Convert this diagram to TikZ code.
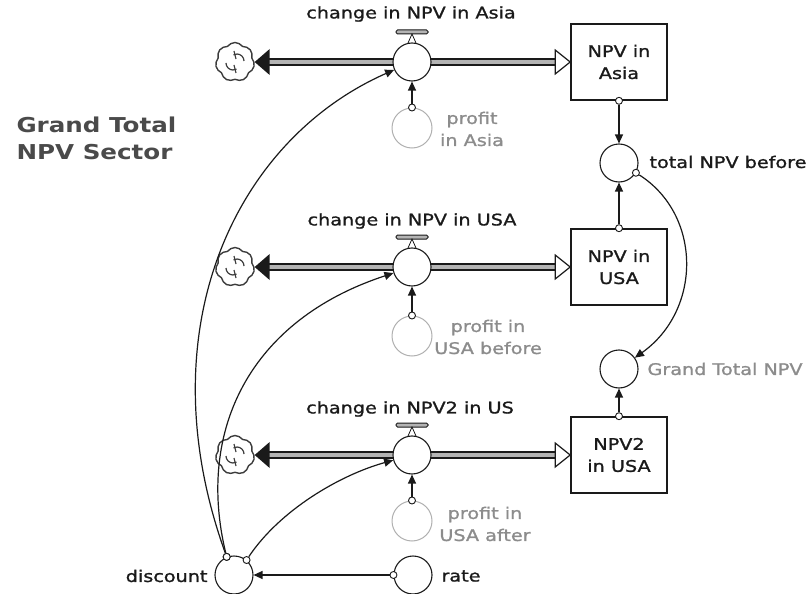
\documentclass[tikz,border=0pt]{standalone}
\usepackage{fontspec}
\setmainfont{DejaVu Sans}[FakeStretch=1.2, UprightFeatures={FakeBold=1.2}]
\usetikzlibrary{shapes.symbols, arrows.meta, calc}

\definecolor{ink}{HTML}{1A1A1A}
\definecolor{ghost}{HTML}{8C8C8C}
\definecolor{ghostline}{HTML}{B0B0B0}
\definecolor{pipefill}{HTML}{B4B4B4}
\definecolor{titlegray}{HTML}{4A4A4A}

\begin{document}
\begin{tikzpicture}[x=1pt, y=-1pt,
  every node/.style={font=\fontsize{16}{22}\selectfont, text=ink},
  stock/.style={draw=ink, line width=1.6pt, fill=white, minimum width=96pt,
    minimum height=76pt, align=center, inner sep=0pt},
  conv/.style={circle, draw=ink, line width=1.1pt, fill=white,
    minimum size=38pt, inner sep=0pt},
  ghostconv/.style={circle, draw=ghostline, line width=1pt, fill=white,
    minimum size=40pt, inner sep=0pt},
  tap/.style={circle, draw=ink, fill=white, line width=0.9pt,
    minimum size=7pt, inner sep=0pt},
  cloudnode/.style={cloud, cloud puffs=7, cloud puff arc=110, aspect=1,
    draw=ink!85, line width=1.4pt, fill=white, minimum width=39pt,
    minimum height=39pt, inner sep=0pt},
  link/.style={draw=ink, line width=1.2pt, -{Triangle[length=9pt,width=8pt]}},
  pipe/.style={draw=ink, line width=1.5pt, double=pipefill, double distance=4.5pt},
  bar/.style={draw=ink, line width=1pt, fill=pipefill, rounded corners=1.5pt},
  swirl/.style={draw=ink!85, line width=1.2pt},
  lbl/.style={align=center},
  ghostlbl/.style={align=center, text=ghost},
  title/.style={font=\bfseries\fontsize{20.5}{27}\selectfont, text=titlegray, align=left}
]
\useasboundingbox (0,0) rectangle (807,594);

% ---- sector title
\node[title, anchor=west] (title) at (13,138) {Grand Total\\NPV Sector};

% ---- stocks
\node[stock] (sA) at (619,62) {NPV in\\Asia};
\node[stock] (sU) at (619,267) {NPV in\\USA};
\node[stock] (s2) at (619,455) {NPV2\\in USA};

% ---- clouds (flow sources / sinks)
\node[cloudnode] (c1) at (235,62) {};
\node[cloudnode] (c2) at (235,267) {};
\node[cloudnode] (c3) at (235,455) {};
\foreach \c in {c1,c2,c3}{
  \draw[swirl] ([shift={(-9,1)}]\c.center) arc[start angle=180, end angle=60, radius=7];
  \draw[swirl] ([shift={(9,-1)}]\c.center) arc[start angle=0, end angle=-120, radius=7];
  \draw[swirl] ([shift={(-1,-11)}]\c.center) -- ([shift={(1,-3)}]\c.center);
  \draw[swirl] ([shift={(1,11)}]\c.center) -- ([shift={(-1,3)}]\c.center);
}

% ---- pipes with their end arrowheads
\foreach \c/\s/\e in {c1/sA/e1, c2/sU/e2, c3/s2/e3}{
  \coordinate (\e) at (\c.east -| \s.west);
  \draw[pipe] ([xshift=12pt]\c.east) -- ([xshift=-12pt]\e);
  \fill[ink] (\c.east) -- ([shift={(15,-13)}]\c.east) -- ([shift={(15,13)}]\c.east) -- cycle;
  \draw[ink, line width=1.2pt, fill=white, line join=miter]
    (\e) -- ([shift={(-15,-12)}]\e) -- ([shift={(-15,12)}]\e) -- cycle;
}

% ---- valves
\node[conv] (v1) at (412,62) {};
\node[conv] (v2) at (412,267) {};
\node[conv] (v3) at (412,455) {};
\foreach \v in {v1,v2,v3}{
  \draw[bar] ([shift={(-16,-32)}]\v.center) rectangle ([shift={(16,-28)}]\v.center);
  \draw[ink, line width=0.8pt] ([shift={(-4,-19)}]\v.center) -- ([shift={(0,-28)}]\v.center)
    -- ([shift={(4,-19)}]\v.center);
}
\node[lbl] (lv1) at (411,14) {change in NPV in Asia};
\node[lbl] (lv2) at (412,221) {change in NPV in USA};
\node[lbl] (lv3) at (410,409) {change in NPV2 in US};

% ---- profit ghosts feeding the valves
\node[ghostconv] (p1) at (412,128) {};
\node[ghostconv] (p2) at (412,336) {};
\node[ghostconv] (p3) at (412,521) {};
\node[ghostlbl] (lp1) at (472,129) {profit\\in Asia};
\node[ghostlbl] (lp2) at (488,337) {profit in\\USA before};
\node[ghostlbl] (lp3) at (485,524) {profit in\\USA after};
\foreach \p/\v in {p1/v1, p2/v2, p3/v3}{
  \node[tap] (t\p) at (\p.north) {};
  \draw[link] (t\p) -- (\v);
}

% ---- totals
\node[conv] (tot) at (619,163) {};
\node[anchor=west] (ltot) at (646,162) {total NPV before};
\node[conv] (grand) at (619,369) {};
\node[ghostlbl, anchor=west] (lgrand) at (644,369) {Grand Total NPV};

\node[tap] (tA) at (sA.south) {};
\node[tap] (tU) at (sU.north) {};
\node[tap] (t2) at (s2.north) {};
\node[tap] (tT) at (tot.-30) {};
\draw[link] (tA) -- (tot);
\draw[link] (tU) -- (tot);
\draw[link] (t2) -- (grand);
\draw[link] (tT) .. controls (702,215) and (702,310) .. (grand);

% ---- discount and rate
\node[conv] (disc) at (234,575) {};
\node[anchor=east] (ldisc) at (211,576) {discount};
\node[conv] (rate) at (413,575) {};
\node[anchor=west] (lrate) at (438,576) {rate};

\node[tap] (tr) at (rate.west) {};
\draw[link] (tr) -- (disc);
\node[tap] (td1) at (disc.112) {};
\node[tap] (td2) at (disc.50) {};
\draw[link] (td1) .. controls (145,330) and (235,140) .. (v1);
\draw[link] (td1) .. controls (196,430) and (250,320) .. (v2);
\draw[link] (td2) .. controls (280,510) and (340,475) .. (v3);
\node[tap] at (td1) {};
\end{tikzpicture}
\end{document}
